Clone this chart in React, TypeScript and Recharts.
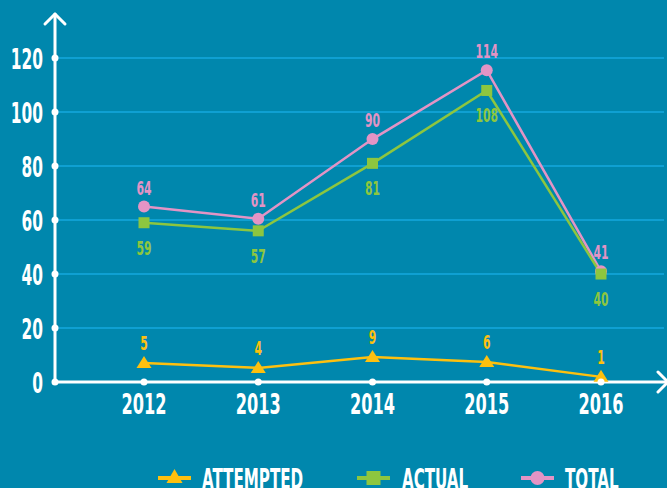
import React from "react";
import { LineChart, Line, XAxis, YAxis, CartesianGrid, LabelList, Customized } from "recharts";

const years = ["2012", "2013", "2014", "2015", "2016"];
const attemptedValues = [7, 5.2, 9.3, 7.4, 1.9];
const attemptedLabels = ["5", "4", "9", "6", "1"];
const actualValues = [59, 56, 81, 108, 40];
const actualLabels = ["59", "57", "81", "108", "40"];
const totalValues = [65, 60.5, 90, 115.5, 41];
const totalLabels = ["64", "61", "90", "114", "41"];
const yTicks = [0, 20, 40, 60, 80, 100, 120];
const legendNames = ["ATTEMPTED", "ACTUAL", "TOTAL"];

const data = years.map((y, i) => ({
  year: y,
  attempted: attemptedValues[i],
  attemptedLabel: attemptedLabels[i],
  actual: actualValues[i],
  actualLabel: actualLabels[i],
  total: totalValues[i],
  totalLabel: totalLabels[i],
}));

const BG = "#0087AD";
const GRID = "#0FA0D2";
const PINK = "#E394C5";
const GREEN = "#8DC63F";
const YELLOW = "#FDC00F";
const FONT = "'DejaVu Sans Condensed', 'DejaVu Sans', sans-serif";

const CT = (p: any) => {
  const { x, y, size, anchor = "middle", fill, sx = 0.6, children } = p;
  return (
    <text
      transform={`translate(${x},${y}) scale(${sx},1)`}
      textAnchor={anchor}
      fill={fill}
      fontFamily={FONT}
      fontSize={size}
      fontWeight="bold"
    >
      {children}
    </text>
  );
};

const YTick = (props: any) => {
  const { x, y, payload } = props;
  return (
    <g>
      <circle cx={x} cy={y} r={3.5} fill="#fff" />
      <CT x={x - 12} y={y + 10.5} size={29} anchor="end" fill="#fff" sx={0.59}>
        {payload.value}
      </CT>
    </g>
  );
};

const XTick = (props: any) => {
  const { x, y, payload } = props;
  return (
    <g>
      <circle cx={x} cy={y} r={3.5} fill="#fff" />
      <CT x={x} y={y + 32} size={29} fill="#fff" sx={0.62}>
        {payload.value}
      </CT>
    </g>
  );
};

const Arrows = () => (
  <g stroke="#fff" strokeWidth={3} fill="none" strokeLinecap="round" strokeLinejoin="round">
    <line x1={55} y1={382} x2={55} y2={14} />
    <polyline points="45,24 55,14 65,24" />
    <line x1={55} y1={382} x2={667} y2={382} />
    <polyline points="658,372 668,382 658,392" />
  </g>
);

const legendColors = [YELLOW, GREEN, PINK];
const legendIconX = [158, 357, 521];
const legendTextX = [202, 402, 565];

const LegendSvg = () => (
  <g>
    {legendNames.map((name, i) => {
      const c = legendColors[i];
      const x0 = legendIconX[i];
      const cy = 478;
      return (
        <g key={name}>
          <line x1={x0} y1={cy} x2={x0 + 33} y2={cy} stroke={c} strokeWidth={4} />
          {i === 0 && <polygon points={`${x0 + 16.5},${cy - 9} ${x0 + 24.5},${cy + 5} ${x0 + 8.5},${cy + 5}`} fill={c} />}
          {i === 1 && <rect x={x0 + 9.5} y={cy - 7} width={14} height={14} fill={c} />}
          {i === 2 && <circle cx={x0 + 16.5} cy={cy} r={7} fill={c} />}
          <CT x={legendTextX[i]} y={489} size={29} anchor="start" fill="#fff" sx={0.58}>
            {name}
          </CT>
        </g>
      );
    })}
  </g>
);

const TriangleDot = (props: any) => {
  const { cx, cy, index } = props;
  return <polygon key={`t${index}`} points={`${cx},${cy - 7} ${cx + 7.5},${cy + 5} ${cx - 7.5},${cy + 5}`} fill={YELLOW} />;
};
const SquareDot = (props: any) => {
  const { cx, cy, index } = props;
  return <rect key={`s${index}`} x={cx - 5.5} y={cy - 5.5} width={11} height={11} fill={GREEN} />;
};
const CircleDot = (props: any) => {
  const { cx, cy, index } = props;
  return <circle key={`c${index}`} cx={cx} cy={cy} r={6} fill={PINK} />;
};

const makeLabel = (color: string, dy: number) => (props: any) => {
  const { x, y, value, index } = props;
  return (
    <CT key={`l${index}`} x={x} y={y + dy} size={20} fill={color} sx={0.6}>
      {value}
    </CT>
  );
};

export default function App() {
  return (
    <div style={{ position: "absolute", left: 0, top: 0, width: 667, height: 488, background: BG, overflow: "hidden" }}>
      <LineChart width={667} height={488} data={data} margin={{ top: 13, right: 3, left: 0, bottom: 66 }}>
        <CartesianGrid horizontal vertical={false} stroke={GRID} strokeWidth={2} horizontalValues={yTicks} />
        <XAxis
          dataKey="year"
          axisLine={false}
          tickLine={false}
          tickSize={0}
          tickMargin={0}
          height={40}
          padding={{ left: 89, right: 63 }}
          tick={<XTick />}
          interval={0}
        />
        <YAxis
          width={55}
          domain={[0, 136.7]}
          ticks={yTicks}
          axisLine={false}
          tickLine={false}
          tickSize={0}
          tickMargin={0}
          tick={<YTick />}
          interval={0}
        />
        <Customized component={Arrows} />
        <Line dataKey="total" stroke={PINK} strokeWidth={2.5} dot={<CircleDot />} isAnimationActive={false}>
          <LabelList dataKey="totalLabel" content={makeLabel(PINK, -12)} />
        </Line>
        <Line dataKey="actual" stroke={GREEN} strokeWidth={2.5} dot={<SquareDot />} isAnimationActive={false}>
          <LabelList dataKey="actualLabel" content={makeLabel(GREEN, 32)} />
        </Line>
        <Line dataKey="attempted" stroke={YELLOW} strokeWidth={2.5} dot={<TriangleDot />} isAnimationActive={false}>
          <LabelList dataKey="attemptedLabel" content={makeLabel(YELLOW, -13)} />
        </Line>
        <Customized component={LegendSvg} />
      </LineChart>
    </div>
  );
}
